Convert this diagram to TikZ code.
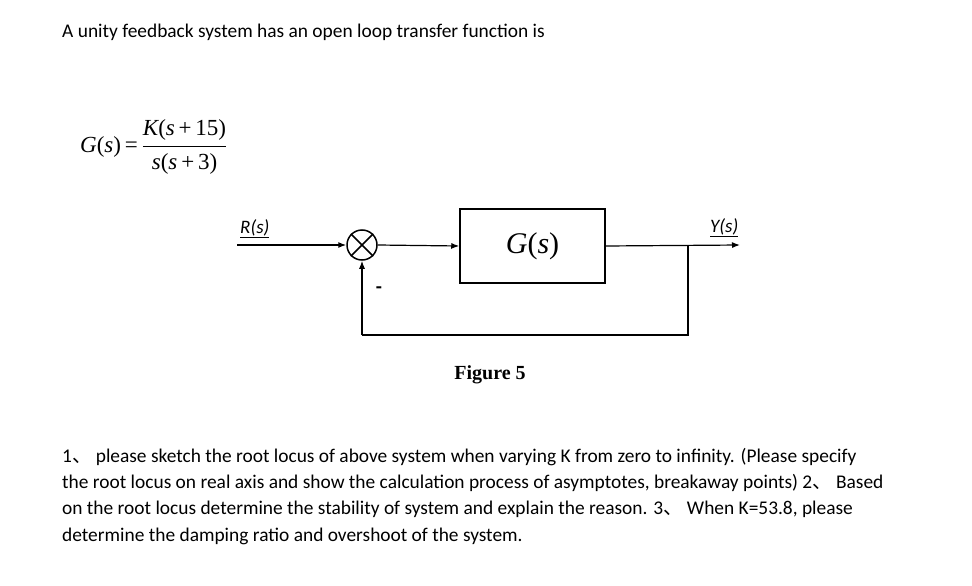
\documentclass[tikz,border=0pt]{standalone}
\usepackage{fontspec}
\setmainfont{Carlito}
\newfontfamily\serif{Liberation Serif}
\newfontfamily\cjk{Noto Sans CJK SC}
\newcommand{\dun}{{\cjk 、}}
\newcommand{\mi}[1]{{\serif\itshape #1}}
\newcommand{\mr}[1]{{\serif #1}}
\usetikzlibrary{arrows.meta}
\begin{document}
\begin{tikzpicture}[x=1pt,y=-1pt,
  txt/.style={anchor=west,inner sep=0pt,font=\fontsize{19.4}{22}\selectfont},
  line/.style={line width=1.2pt,-{Latex[length=8pt,width=6pt]}},
  plain/.style={line width=1.2pt}]
\useasboundingbox (0,0) rectangle (972,586);
\node[txt] (title) at (62,32) {A unity feedback system has an open loop transfer function is};
\node[anchor=west,inner sep=0pt,font=\serif\fontsize{23}{26}\selectfont] (gs) at (80,147)
  {\mi{G}\mr{(}\mi{s}\mr{)\,=}\,$\displaystyle\frac{\hbox{\mi{K}\mr{(}\mi{s}\mr{\,+\,15)}}}{\hbox{\mi{s}\mr{(}\mi{s}\mr{\,+\,3)}}}$};
\node[txt,font=\fontsize{19}{22}\selectfont\itshape] (R) at (240,229) {\underline{R(s)}};
\node[txt,font=\fontsize{19}{22}\selectfont\itshape] (Y) at (710,228) {\underline{Y(s)}};
\coordinate (in) at (237,245);
\node[circle,draw,line width=1.5pt,minimum size=30pt,inner sep=0pt] (sum) at (362,245) {};
\draw[line width=1.5pt] (sum.north west)--(sum.south east) (sum.north east)--(sum.south west);
\node[draw,line width=1.5pt,minimum width=145pt,minimum height=74pt,font=\serif\fontsize{30}{34}\selectfont] (G) at (532.5,246) {\mi{G}\mr{(}\mi{s}\mr{)}};
\coordinate (out) at (740,245);
\coordinate (br) at (688,245);
\coordinate (c1) at (688,335);
\coordinate (c2) at (362,335);
\draw[line] (in) -- (sum.west);
\draw[line] (sum.east) -- (G.west);
\draw[line] (G.east) -- (out);
\draw[plain] (br) -- (c1) -- (c2);
\draw[line] (c2) -- (sum.south);
\node[inner sep=0pt,font=\bfseries\fontsize{20}{22}\selectfont] (minus) at (379,290) {-};
\node[inner sep=0pt,font=\serif\bfseries\fontsize{20}{22}\selectfont] (fig) at (490,375) {Figure 5};
\node[txt] (p1) at (62,457) {1\dun{} please sketch the root locus of above system when varying K from zero to infinity. (Please specify};
\node[txt] (p2) at (62,483) {the root locus on real axis and show the calculation process of asymptotes, breakaway points) 2\dun{} Based};
\node[txt] (p3) at (62,509) {on the root locus determine the stability of system and explain the reason. 3\dun{} When K=53.8, please};
\node[txt] (p4) at (62,536) {determine the damping ratio and overshoot of the system.};
\end{tikzpicture}
\end{document}
